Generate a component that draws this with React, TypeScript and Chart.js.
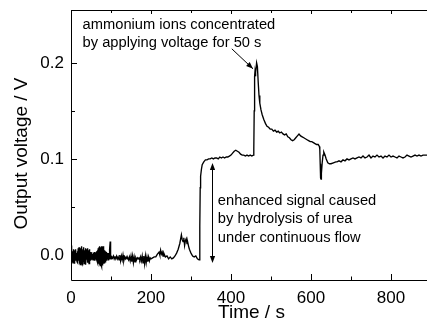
import React, { useEffect, useRef } from "react";
import { Chart, registerables } from "chart.js";

Chart.register(...registerables);

// ---- data (time in s, output voltage in V) ----
const baselineNoisy: [number, number][] = [
  [0, 0.010], [1, -0.004], [2, 0.007], [3, -0.007], [4, 0.004], [5, -0.008], [6, 0.006], [7, -0.005],
  [8, 0.003], [9, -0.009], [10, 0.005], [11, -0.006], [12, 0.006], [13, -0.004], [14, 0.002], [15, -0.007],
  [16, 0.004], [17, -0.008], [18, 0.007], [19, -0.006], [20, 0.008], [21, -0.009], [22, 0.005], [23, -0.010],
  [24, 0.007], [25, -0.006], [26, 0.009], [27, -0.008], [28, 0.004], [29, -0.011], [30, 0.006], [31, -0.007],
  [32, 0.008], [33, -0.009], [34, 0.005], [35, -0.006], [36, 0.007], [37, -0.010], [38, 0.006], [39, -0.005],
  [40, 0.004], [41, -0.008], [42, 0.007], [43, -0.007], [44, 0.005], [45, -0.009], [46, 0.006], [47, -0.004],
  [48, 0.003], [49, -0.006], [50, 0.002], [51, -0.005], [52, 0.003], [53, -0.004], [54, 0.001], [55, -0.005],
  [56, 0.002], [57, -0.003], [58, 0.003], [59, -0.006], [60, 0.002], [61, -0.004], [62, 0.003], [63, -0.005],
  [64, 0.004], [65, -0.006], [66, 0.005], [67, -0.008], [68, 0.007], [69, -0.009], [70, 0.008], [71, -0.010],
  [72, 0.009], [73, -0.011], [74, 0.008], [75, -0.010], [76, 0.009], [77, -0.012], [78, 0.008], [79, -0.011],
  [80, 0.009], [81, -0.009], [82, 0.007], [83, -0.008], [84, 0.005], [85, -0.007], [86, 0.004], [87, -0.005],
  [88, 0.003], [89, -0.006], [90, 0.002], [91, -0.004], [92, 0.001], [93, -0.005], [94, 0.002], [95, -0.004],
  [96, 0.000], [97, 0.006], [98, 0.014], [99, -0.002], [100, -0.004],
];

const baselineQuiet: [number, number][] = [
  [102, -0.002], [104, -0.003], [106, -0.001], [108, -0.004], [110, -0.002], [112, -0.003], [114, -0.001],
  [116, -0.004], [118, -0.002], [120, -0.005], [122, 0.000], [124, -0.006], [126, -0.001], [128, -0.005],
  [130, 0.000], [132, -0.006], [134, -0.002], [136, -0.004], [138, -0.002], [140, -0.004], [142, -0.003],
  [144, -0.005], [146, -0.002], [148, -0.006], [150, -0.001], [152, -0.007], [154, -0.001], [156, -0.008],
  [158, -0.002], [160, -0.007], [162, -0.003], [164, -0.005], [166, -0.003], [168, -0.004], [170, -0.003],
  [172, -0.005], [174, -0.002], [176, -0.006], [178, -0.001], [180, -0.008], [182, -0.001], [184, -0.009],
  [186, -0.001], [188, -0.008], [190, -0.002], [192, -0.007], [194, -0.002], [196, -0.006], [198, -0.003],
  [200, -0.004], [204, -0.003], [208, -0.002], [212, -0.002], [216, 0.001], [220, 0.003], [222, 0.000],
  [224, 0.005], [226, 0.001], [228, 0.003], [230, -0.001], [232, 0.002], [236, -0.002], [240, -0.001],
  [244, -0.004], [248, -0.002], [252, -0.004], [256, -0.003], [260, -0.001], [264, 0.002], [268, 0.006],
  [272, 0.012], [276, 0.021], [278, 0.016], [280, 0.014], [282, 0.018], [284, 0.010], [286, 0.015],
  [288, 0.017], [290, 0.012], [292, 0.013], [294, 0.009], [296, 0.006], [298, 0.004], [300, 0.002],
  [304, -0.001], [308, -0.002], [312, -0.001], [316, -0.004], [320, -0.005],
];

const riseAndPlateau: [number, number][] = [
  [322, 0.030], [323, 0.070], [324, 0.082], [326, 0.089], [328, 0.094], [332, 0.097], [336, 0.099],
  [340, 0.099], [344, 0.100], [348, 0.100], [352, 0.101], [356, 0.100], [360, 0.101], [364, 0.101],
  [368, 0.100], [372, 0.102], [376, 0.101], [380, 0.102], [384, 0.101], [388, 0.102], [392, 0.102],
  [396, 0.103], [400, 0.104], [404, 0.106], [408, 0.108], [412, 0.109], [416, 0.108], [420, 0.107],
  [424, 0.105], [428, 0.104], [432, 0.104], [436, 0.103], [440, 0.104], [444, 0.103], [448, 0.104],
  [452, 0.103], [456, 0.104],
];

const concentrationPeak: [number, number][] = [
  [457, 0.110], [458, 0.150], [459, 0.186], [460, 0.191], [461, 0.186], [462, 0.190], [464, 0.200],
  [466, 0.196], [468, 0.180], [470, 0.166], [472, 0.158], [475, 0.151], [478, 0.146], [482, 0.141],
  [486, 0.137], [490, 0.134], [494, 0.133], [498, 0.131], [502, 0.131], [506, 0.129], [510, 0.130],
  [514, 0.128], [518, 0.129], [522, 0.127], [526, 0.128], [530, 0.126], [534, 0.125], [538, 0.126],
  [542, 0.123], [546, 0.122], [550, 0.120], [554, 0.119], [558, 0.120], [562, 0.122], [566, 0.124],
  [570, 0.126], [574, 0.124], [578, 0.123], [582, 0.122], [586, 0.121], [590, 0.120], [594, 0.119],
  [598, 0.118], [602, 0.118], [606, 0.117], [610, 0.116], [614, 0.115], [618, 0.115], [621, 0.113],
];

const dipAndRecovery: [number, number][] = [
  [622, 0.110], [623, 0.095], [624, 0.080], [625, 0.079], [626, 0.085], [628, 0.096], [630, 0.104],
  [632, 0.107], [635, 0.104], [638, 0.100], [642, 0.096], [646, 0.095], [650, 0.095], [656, 0.096],
  [662, 0.097], [665, 0.097], [670, 0.098], [675, 0.097], [680, 0.099], [685, 0.098], [690, 0.100],
  [695, 0.099], [700, 0.100], [705, 0.101], [710, 0.100], [715, 0.101], [720, 0.102], [725, 0.101],
  [730, 0.103], [735, 0.101], [740, 0.102], [745, 0.104], [750, 0.101], [755, 0.103], [760, 0.102],
  [765, 0.104], [770, 0.102], [775, 0.103], [780, 0.101], [785, 0.103], [790, 0.102], [795, 0.104],
  [800, 0.102], [805, 0.103], [810, 0.102], [815, 0.101], [820, 0.103], [825, 0.102], [830, 0.101],
  [835, 0.102], [840, 0.104], [845, 0.103], [850, 0.102], [855, 0.103], [860, 0.104], [865, 0.103],
  [870, 0.104], [875, 0.103], [880, 0.104], [885, 0.104], [890, 0.104],
];

// ---- axes ----
const xMin = 0;
const xMax = 890;
const yMin = -0.026;
const yMax = 0.255;
const xMajorTicks = [0, 200, 400, 600, 800];
const xMinorTicks = [100, 300, 500, 700];
const yMajorTicks = [0.0, 0.1, 0.2];
const yMinorTicks = [0.05, 0.15];
const xTitle = "Time / s";
const yTitle = "Output voltage / V";

// ---- annotations ----
const noteTop = ["ammonium ions concentrated", "by applying voltage for 50 s"];
const noteBottom = ["enhanced signal caused", "by hydrolysis of urea", "under continuous flow"];

const FONT = "'Liberation Sans', Arial, Helvetica, sans-serif";

function arrowHead(ctx: CanvasRenderingContext2D, x1: number, y1: number, x2: number, y2: number, len: number, half: number) {
  const ang = Math.atan2(y2 - y1, x2 - x1);
  ctx.beginPath();
  ctx.moveTo(x2, y2);
  ctx.lineTo(x2 - len * Math.cos(ang) + half * Math.sin(ang), y2 - len * Math.sin(ang) - half * Math.cos(ang));
  ctx.lineTo(x2 - len * Math.cos(ang) - half * Math.sin(ang), y2 - len * Math.sin(ang) + half * Math.cos(ang));
  ctx.closePath();
  ctx.fill();
}

const framePlugin = {
  id: "frameAndNotes",
  afterDraw(chart: any) {
    const { ctx, chartArea, scales } = chart;
    const xs = scales.x;
    const ys = scales.y;
    const { left, right, top, bottom } = chartArea;
    ctx.save();
    ctx.strokeStyle = "#000";
    ctx.fillStyle = "#000";
    ctx.lineWidth = 1;
    // frame
    ctx.beginPath();
    ctx.moveTo(right + 1, top + 0.5);
    ctx.lineTo(left + 0.5, top + 0.5);
    ctx.lineTo(left + 0.5, bottom + 0.5);
    ctx.lineTo(right + 1, bottom + 0.5);
    ctx.stroke();
    // ticks (inward)
    ctx.beginPath();
    for (const v of xMajorTicks) {
      const px = Math.round(xs.getPixelForValue(v)) + 0.5;
      ctx.moveTo(px, bottom);
      ctx.lineTo(px, bottom - 6);
      ctx.moveTo(px, top);
      ctx.lineTo(px, top + 4);
    }
    for (const v of xMinorTicks) {
      const px = Math.round(xs.getPixelForValue(v)) + 0.5;
      ctx.moveTo(px, bottom);
      ctx.lineTo(px, bottom - 3.5);
      ctx.moveTo(px, top);
      ctx.lineTo(px, top + 3);
    }
    for (const v of yMajorTicks) {
      const py = Math.round(ys.getPixelForValue(v)) + 0.5;
      ctx.moveTo(left, py);
      ctx.lineTo(left + 6, py);
    }
    for (const v of yMinorTicks) {
      const py = Math.round(ys.getPixelForValue(v)) + 0.5;
      ctx.moveTo(left, py);
      ctx.lineTo(left + 4, py);
    }
    ctx.stroke();

    // axis titles
    ctx.font = `19px ${FONT}`;
    ctx.textAlign = "center";
    ctx.textBaseline = "middle";
    ctx.fillText(xTitle, 251.5, 313);
    ctx.save();
    ctx.translate(22, 153.5);
    ctx.rotate(-Math.PI / 2);
    ctx.fillText(yTitle, 0, 0);
    ctx.restore();

    // notes
    ctx.font = `14.7px ${FONT}`;
    ctx.textBaseline = "middle";
    ctx.textAlign = "left";
    const nx1 = xs.getPixelForValue(29);
    const ny1 = ys.getPixelForValue(0.2396);
    noteTop.forEach((s, i) => ctx.fillText(s, nx1, ny1 + i * 17.7));
    const nx2 = xs.getPixelForValue(367);
    const ny2 = ys.getPixelForValue(0.0563);
    noteBottom.forEach((s, i) => ctx.fillText(s, nx2, ny2 + i * 18.3));

    // arrow to peak
    const ax1 = xs.getPixelForValue(402), ay1 = ys.getPixelForValue(0.2146);
    const ax2 = xs.getPixelForValue(455), ay2 = ys.getPixelForValue(0.1938);
    ctx.beginPath();
    ctx.moveTo(ax1, ay1);
    ctx.lineTo(ax2, ay2);
    ctx.stroke();
    arrowHead(ctx, ax1, ay1, ax2, ay2, 7, 2.6);

    // double arrow
    const bx = Math.round(xs.getPixelForValue(352.5)) + 0.5;
    const by1 = ys.getPixelForValue(0.0958), by2 = ys.getPixelForValue(-0.0083);
    ctx.beginPath();
    ctx.moveTo(bx, by1 + 3);
    ctx.lineTo(bx, by2 - 3);
    ctx.stroke();
    arrowHead(ctx, bx, by2, bx, by1, 7, 2.6);
    arrowHead(ctx, bx, by1, bx, by2, 7, 2.6);
    ctx.restore();
  },
};

export default function App() {
  const ref = useRef<HTMLCanvasElement | null>(null);
  useEffect(() => {
    if (!ref.current) return;
    const points = [...baselineNoisy, ...baselineQuiet, ...riseAndPlateau, ...concentrationPeak, ...dipAndRecovery].map(
      ([x, y]) => ({ x, y })
    );
    Chart.defaults.font.family = FONT;
    Chart.defaults.color = "#000";
    const chart = new Chart(ref.current, {
      type: "line",
      data: {
        datasets: [
          {
            data: points,
            borderColor: "#000",
            borderWidth: 1.35,
            pointRadius: 0,
            tension: 0,
            fill: false,
          },
        ],
      },
      options: {
        animation: false,
        responsive: false,
        events: [],
        layout: { padding: { top: 10, right: 0, left: 0, bottom: 0 } },
        plugins: { legend: { display: false }, tooltip: { enabled: false } },
        scales: {
          x: {
            type: "linear",
            min: xMin,
            max: xMax,
            grid: { display: false, drawTicks: false },
            border: { display: false },
            afterBuildTicks: (s: any) => {
              s.ticks = xMajorTicks.map((value) => ({ value }));
            },
            ticks: {
              autoSkip: false,
              maxRotation: 0,
              padding: 8,
              font: { size: 17 },
              color: "#000",
              callback: (v: any) => String(Math.round(Number(v))),
            },
            title: { display: false },
            afterFit: (s: any) => {
              s.height = 48;
              s.paddingLeft = 0;
              s.paddingRight = 0;
            },
          },
          y: {
            type: "linear",
            min: yMin,
            max: yMax,
            grid: { display: false, drawTicks: false },
            border: { display: false },
            afterBuildTicks: (s: any) => {
              s.ticks = yMajorTicks.map((value) => ({ value }));
            },
            ticks: {
              autoSkip: false,
              padding: 7,
              font: { size: 17 },
              color: "#000",
              callback: (v: any) => Number(v).toFixed(1),
            },
            title: { display: false },
            afterFit: (s: any) => {
              s.width = 71;
              s.paddingTop = 0;
              s.paddingBottom = 0;
            },
          },
        },
      },
      plugins: [framePlugin],
    });
    return () => chart.destroy();
  }, []);
  return (
    <div style={{ position: "fixed", left: 0, top: 0, width: 427, height: 328, background: "#fff" }}>
      <canvas ref={ref} width={427} height={328} style={{ display: "block" }} />
    </div>
  );
}
